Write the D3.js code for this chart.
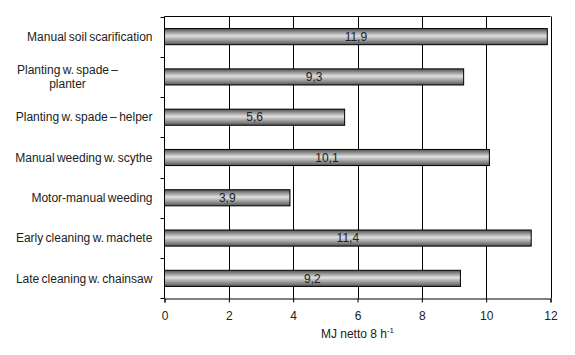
<!DOCTYPE html>
<html><head><meta charset="utf-8">
<script src="https://cdn.jsdelivr.net/npm/d3@7"></script>
<style>
body{margin:0;background:#fff;}
text{font-family:"Liberation Sans",Arial,sans-serif;}
</style></head>
<body><svg id="c" width="575" height="355"></svg>
<script>
const categories = [
  ["Manual soil scarification"],
  ["Planting w. spade \u2013", "planter"],
  ["Planting w. spade \u2013 helper"],
  ["Manual weeding w. scythe"],
  ["Motor-manual weeding"],
  ["Early cleaning w. machete"],
  ["Late cleaning w. chainsaw"]
];
const values = [11.9, 9.3, 5.6, 10.1, 3.9, 11.4, 9.2];
const xTicks = [0, 2, 4, 6, 8, 10, 12];
const xTitle = "MJ netto 8 h";

const FS = 12;
const svg = d3.select("#c");
const L = 164.5, R = 550.5, T = 16.5, B = 298.5;
const x = d3.scaleLinear().domain([0, 12]).range([L, R]);
const y = d3.scaleBand().domain(d3.range(values.length)).range([T, B]).paddingInner(0.6).paddingOuter(0.3);
const yb = d3.scaleBand().domain(d3.range(values.length)).range([T, B]);

const defs = svg.append("defs");
const g = defs.append("linearGradient").attr("id", "bg").attr("x1", 0).attr("y1", 0).attr("x2", 0).attr("y2", 1);
[[0, "#505050"], [0.45, "#e0e0e0"], [1, "#555"]].forEach(([o, c]) => g.append("stop").attr("offset", o).attr("stop-color", c));

// gridlines
svg.append("g").selectAll("line").data(xTicks.slice(1)).join("line")
  .attr("x1", d => Math.round(x(d)) + 0.5).attr("x2", d => Math.round(x(d)) + 0.5)
  .attr("y1", T).attr("y2", B).attr("stroke", "#000").attr("stroke-width", 1);
// top border
svg.append("line").attr("x1", L).attr("x2", R).attr("y1", T).attr("y2", T).attr("stroke", "#000");

// bars
svg.append("g").selectAll("rect").data(values).join("rect")
  .attr("x", x(0)).attr("y", (d, i) => y(i))
  .attr("width", d => x(d) - x(0)).attr("height", y.bandwidth())
  .attr("fill", "url(#bg)").attr("stroke", "#000").attr("stroke-width", 1);

// value labels
svg.append("g").selectAll("text").data(values).join("text")
  .attr("x", d => (x(0) + x(d)) / 2).attr("y", (d, i) => y(i) + y.bandwidth() / 2)
  .attr("dy", "0.35em").attr("text-anchor", "middle").attr("font-size", FS).attr("fill", "#222")
  .text(d => d3.format(".1f")(d).replace(".", ","));

// x axis
const xa = svg.append("g").attr("transform", `translate(0,${B})`)
  .call(d3.axisBottom(x).tickValues(xTicks).tickSize(4).tickPadding(9).tickFormat(d3.format("d")));
xa.select(".domain").attr("stroke", "#000");
xa.selectAll("text").attr("font-size", FS).attr("fill", "#222").style("font-family", '"Liberation Sans",Arial,sans-serif');

// y axis line and ticks at band boundaries
svg.append("line").attr("x1", L).attr("x2", L).attr("y1", T).attr("y2", B).attr("stroke", "#000");
svg.append("g").selectAll("line").data(d3.range(values.length + 1)).join("line")
  .attr("x1", L - 4).attr("x2", L)
  .attr("y1", i => i < values.length ? Math.round(yb(i)) + 0.5 : B)
  .attr("y2", i => i < values.length ? Math.round(yb(i)) + 0.5 : B)
  .attr("stroke", "#000");

// category labels
const cl = svg.append("g").selectAll("text").data(categories).join("text")
  .attr("font-size", FS).attr("fill", "#222").attr("text-anchor", "middle")
  .attr("word-spacing", -1);
cl.each(function (lines, i) {
  const t = d3.select(this);
  const cy = y(i) + y.bandwidth() / 2;
  const lh = 14;
  const y0 = cy - (lines.length - 1) * lh / 2;
  lines.forEach((s, k) => t.append("tspan").attr("y", y0 + k * lh).attr("dy", "0.35em").text(s));
  const w = this.getBBox().width;
  t.selectAll("tspan").attr("x", 152.5 - w / 2);
});

// x title
const tt = svg.append("text").attr("x", (L + R) / 2).attr("y", 338)
  .attr("text-anchor", "middle").attr("font-size", FS).attr("fill", "#222");
tt.append("tspan").text(xTitle);
tt.append("tspan").attr("dy", -5).attr("font-size", 8).text("-1");
</script></body></html>
